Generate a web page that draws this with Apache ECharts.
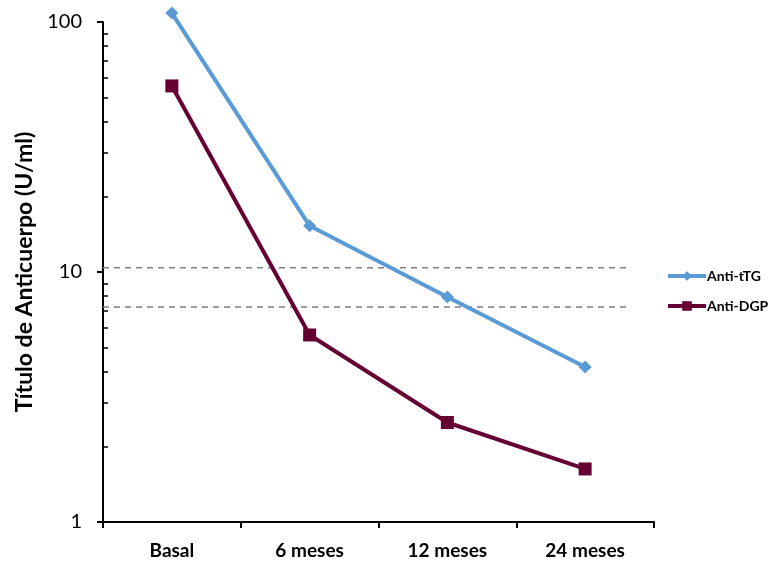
<!DOCTYPE html>
<html>
<head>
<meta charset="utf-8">
<script src="https://cdn.jsdelivr.net/npm/echarts@6/dist/echarts.min.js"></script>
<style>
  html, body { margin: 0; padding: 0; background: #fff; }
  #chart { width: 775px; height: 562px; }
</style>
</head>
<body>
<div id="chart"></div>
<script>
// Time points of follow-up
const categories = ['Basal', '6 meses', '12 meses', '24 meses'];
// Antibody titres (U/ml)
const antiTTG = [108.6, 15.3, 7.95, 4.17];
const antiDGP = [55.5, 5.6, 2.5, 1.63];
// Cut-off reference levels (dashed lines)
const cutoffs = [10.4, 7.25];
const cutoffEnd = 3.8; // in category units along the plot width
// Minor tick values on the log axis
const minorTicks = [2, 3, 4, 5, 6, 7, 8, 9, 20, 30, 40, 50, 60, 70, 80, 90];

const FONT = 'Lato, "Open Sans", sans-serif';
const chart = echarts.init(document.getElementById('chart'), null, { renderer: 'canvas' });

const cutoffSeries = cutoffs.map(v => ({
  type: 'line',
  xAxisIndex: 1,
  yAxisIndex: 0,
  data: [[0, v], [cutoffEnd, v]],
  symbol: 'none',
  silent: true,
  lineStyle: { color: '#808080', width: 1.5, type: [6, 5] },
  z: 1
}));

chart.setOption({
  animation: false,
  grid: { left: 103, right: 121, top: 22, bottom: 40 },
  legend: {
    orient: 'vertical',
    left: 666,
    top: 269,
    padding: 0,
    itemWidth: 38,
    itemHeight: 12,
    itemGap: 16,
    lineStyle: { width: 4 },
    data: ['Anti-tTG', 'Anti-DGP'],
    textStyle: { fontFamily: FONT, fontWeight: 'bold', fontSize: 14, color: '#000', padding: [0, 0, 0, -4] }
  },
  xAxis: [
    {
      type: 'category',
      data: categories,
      boundaryGap: true,
      axisLine: { lineStyle: { color: '#000', width: 2 } },
      axisTick: { show: true, length: 6, lineStyle: { color: '#000', width: 2 } },
      axisLabel: { margin: 19, fontFamily: FONT, fontWeight: 'bold', fontSize: 19, color: '#000' }
    },
    {
      type: 'value',
      min: 0,
      max: 4,
      show: false
    }
  ],
  yAxis: [
    {
      type: 'log',
      logBase: 10,
      min: 1,
      max: 100,
      name: 'Título de Anticuerpo (U/ml)',
      nameLocation: 'middle',
      nameGap: 67,
      nameTextStyle: { fontFamily: FONT, fontWeight: 'bold', fontSize: 23, color: '#000' },
      axisLine: { show: true, lineStyle: { color: '#000', width: 2 } },
      axisTick: { show: true, length: 6, lineStyle: { color: '#000', width: 2 } },
      axisLabel: { margin: 21, fontFamily: FONT, fontSize: 20, color: '#000' },
      splitLine: { show: false }
    },
    {
      type: 'log',
      logBase: 10,
      min: 1,
      max: 100,
      position: 'left',
      axisLine: { show: false },
      axisTick: { show: true, inside: true, length: 5, customValues: minorTicks, lineStyle: { color: '#000', width: 1.5 } },
      axisLabel: { show: false },
      splitLine: { show: false }
    }
  ],
  series: [
    ...cutoffSeries,
    {
      name: 'Anti-tTG',
      type: 'line',
      data: antiTTG,
      clip: false,
      symbol: 'diamond',
      symbolSize: 13,
      color: '#5B9BD5',
      lineStyle: { width: 4, color: '#5B9BD5' },
      itemStyle: { color: '#5B9BD5' },
      z: 3
    },
    {
      name: 'Anti-DGP',
      type: 'line',
      data: antiDGP,
      clip: false,
      symbol: 'rect',
      symbolSize: 13,
      color: '#660033',
      lineStyle: { width: 4, color: '#660033' },
      itemStyle: { color: '#660033' },
      z: 3
    }
  ]
});
</script>
</body>
</html>
